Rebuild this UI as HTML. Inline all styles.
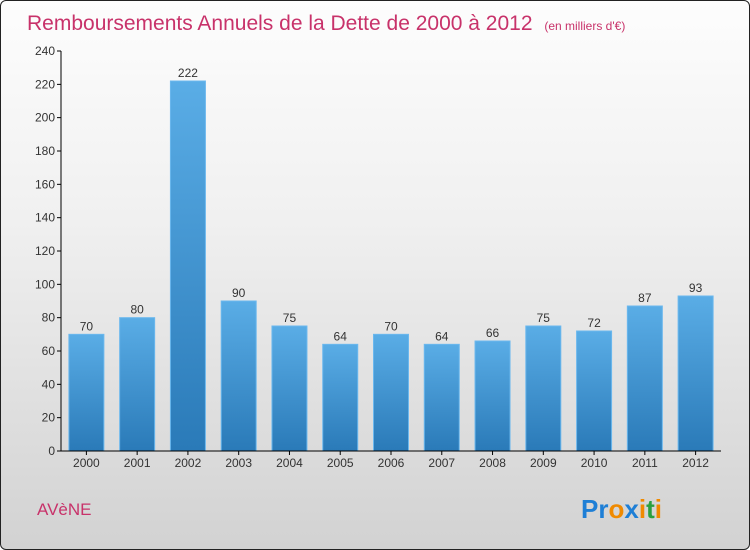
<!DOCTYPE html>
<html><head><meta charset="utf-8"><style>
body{margin:0}
#c{width:748px;height:548px;border:1px solid #222;border-radius:6px;background:linear-gradient(#fdfdfd,#f0f0f0 40%,#d2d2d2);position:relative;overflow:hidden;font-family:"Liberation Sans",sans-serif}
</style></head><body>
<div id="c">
<svg width="748" height="548" style="position:absolute;left:0;top:0">
<defs><linearGradient id="bg" x1="0" y1="0" x2="0" y2="1"><stop offset="0" stop-color="#5aade6"/><stop offset="1" stop-color="#2a7ab8"/></linearGradient></defs>
<text x="26" y="29" font-size="21" fill="#c8326a">Remboursements Annuels de la Dette de 2000 à 2012 <tspan font-size="12" dx="6">(en milliers d'€)</tspan></text>
<g id="plot"></g>
<text x="36" y="514" font-size="17" fill="#c8326a">AVèNE</text>
<text x="580" y="517" font-size="26" font-weight="bold" font-family="Liberation Sans, sans-serif"><tspan fill="#1e7fd6">Pr</tspan><tspan fill="#f08a00">o</tspan><tspan fill="#1e7fd6">x</tspan><tspan fill="#f08a00">i</tspan><tspan fill="#2aa040">t</tspan><tspan fill="#f08a00">i</tspan></text>
</svg>
</div>
<script>
const categories=["2000","2001","2002","2003","2004","2005","2006","2007","2008","2009","2010","2011","2012"];
const values=[70,80,222,90,75,64,70,64,66,75,72,87,93];
const ticks=[0,20,40,60,80,100,120,140,160,180,200,220,240];
const X0=60,X1=720,Y0=450,Y1=50,MAX=240;
const y=v=>Y0-(v/MAX)*(Y0-Y1);
const slot=(X1-X0)/categories.length;
const x=i=>X0+(i+0.5)*slot;
const g=document.getElementById('plot');
const NS='http://www.w3.org/2000/svg';
function mk(t,a){const e=document.createElementNS(NS,t);for(const k in a)e.setAttribute(k,a[k]);g.appendChild(e);return e;}
ticks.forEach(t=>{
 const l=mk('line',{x1:56,x2:60,y1:y(t),y2:y(t),stroke:'#000'});
 
 
 const tx=mk('text',{x:54,y:y(t)+4,'text-anchor':'end','font-size':12,fill:'#333'});
 tx.textContent=t;
 
 
});
values.forEach((v,i)=>{
 const r=mk('rect',{x:x(i)-17.5,y:y(v),width:35,height:Y0-y(v),fill:'url(#bg)',stroke:'#6bb8ee','stroke-width':1});
 
 
 const lb=mk('text',{x:x(i),y:y(v)-4,'text-anchor':'middle','font-size':12,fill:'#333'});
 lb.textContent=v;
 
 
 const tk=mk('line',{x1:x(i),x2:x(i),y1:Y0,y2:Y0+4,stroke:'#000'});
 
 
 const cl=mk('text',{x:x(i),y:Y0+16,'text-anchor':'middle','font-size':12,fill:'#333'});
 cl.textContent=categories[i];
 
 
});
const ya=mk('line',{x1:X0,x2:X0,y1:Y1,y2:Y0,stroke:'#000'});


const xa=mk('line',{x1:X0,x2:X1,y1:Y0,y2:Y0,stroke:'#000'});


</script>
</body></html>
